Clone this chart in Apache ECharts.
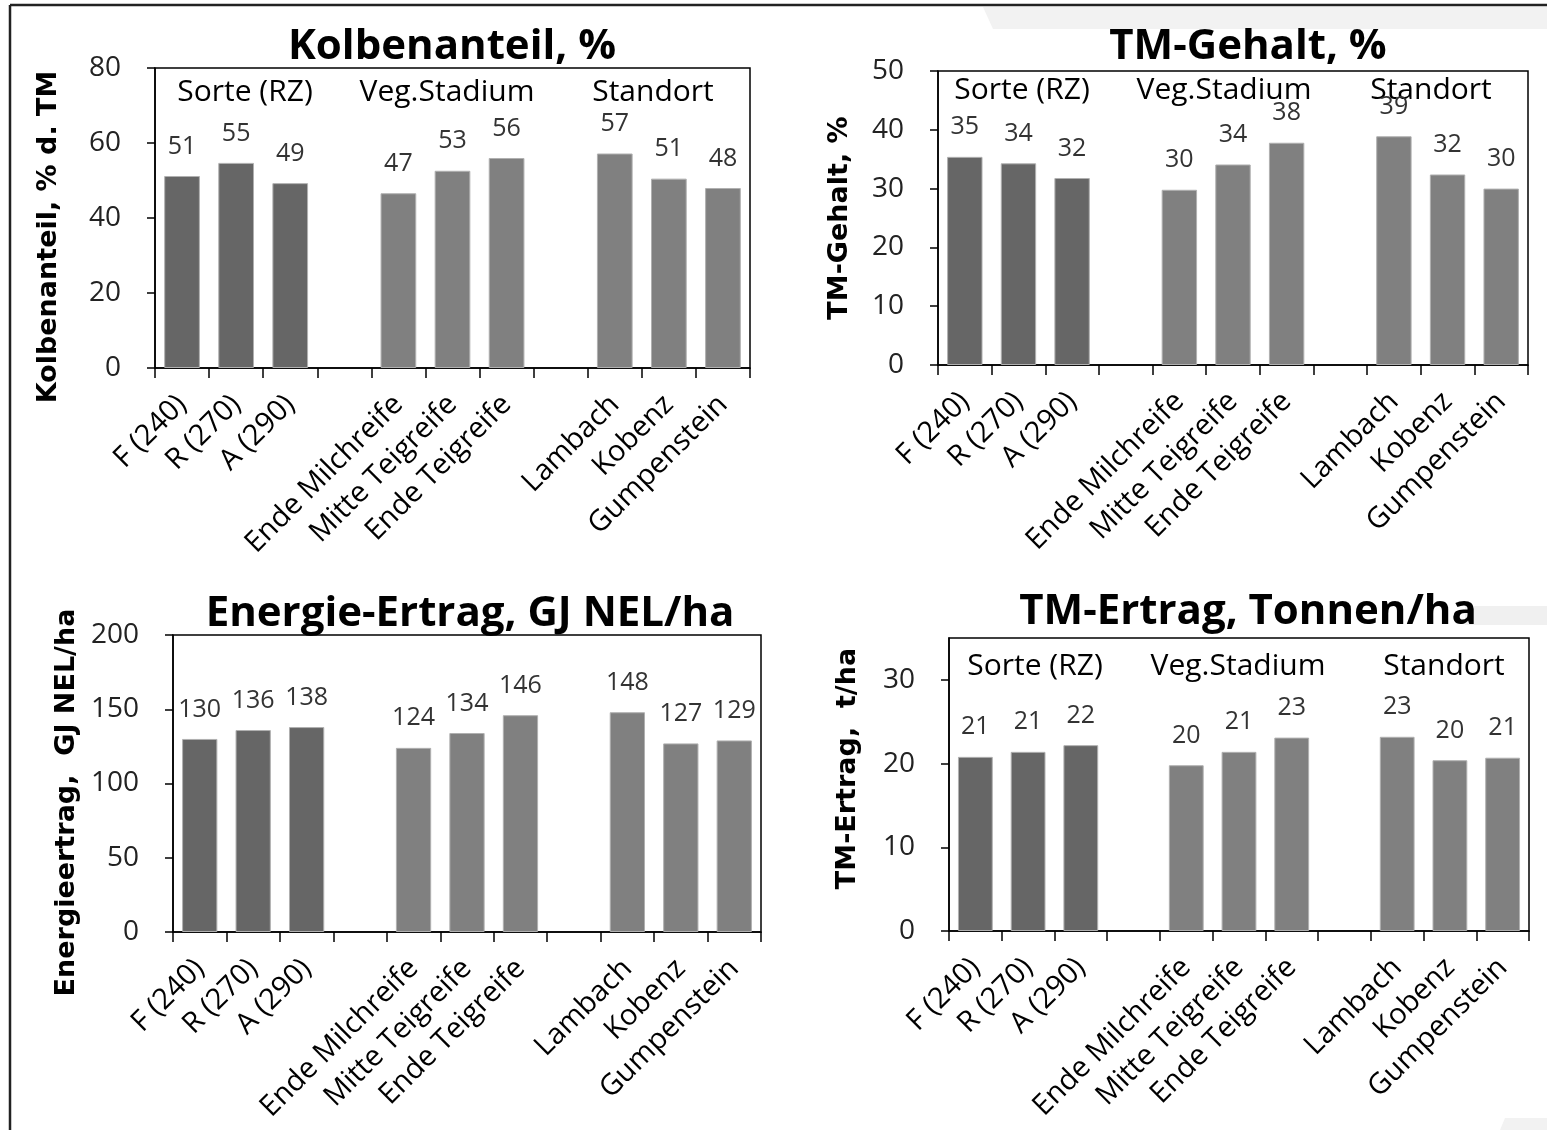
<!DOCTYPE html>
<html>
<head>
<meta charset="utf-8">
<title>Silomais Kennzahlen</title>
<script src="https://cdn.jsdelivr.net/npm/echarts@6/dist/echarts.min.js"></script>
<style>
    html, body { margin: 0; padding: 0; background: #fff; }
    #main { width: 1547px; height: 1130px; }
</style>
</head>
<body>
<div id="main"></div>
<script>
    // Kategorien, drei Gruppen
    var sorte = ['F (240)', 'R (270)', 'A (290)'];
    var stadium = ['Ende Milchreife', 'Mitte Teigreife', 'Ende Teigreife'];
    var standort = ['Lambach', 'Kobenz', 'Gumpenstein'];
    var gruppen = ['Sorte (RZ)', 'Veg.Stadium', 'Standort'];

    // Werte je Diagramm (Sorte x3, Stadium x3, Standort x3)
    var kolbenanteil = [51.2, 54.7, 49.3, 46.6, 52.6, 56.0, 57.2, 50.5, 48.0];
    var tmGehalt = [35.4, 34.3, 31.8, 29.8, 34.1, 37.8, 38.9, 32.4, 30.0];
    var energieErtrag = [130, 136, 138, 124, 134, 146, 148, 127, 129];
    var tmErtrag = [20.8, 21.4, 22.2, 19.8, 21.4, 23.1, 23.2, 20.4, 20.7];

    var FONT = '"Open Sans", sans-serif';
    var dunkel = '#666666';
    var hell = '#808080';

    // Kategorien mit Lücke zwischen den Gruppen
    var kategorien = sorte.concat([' '], stadium, ['  '], standort);
    function mitLuecken(v) {
        return v.slice(0, 3).concat(['-'], v.slice(3, 6), ['-'], v.slice(6, 9));
    }

    // Layout der vier Diagramme
    var panels = [
        {title: 'Kolbenanteil, %', tx: 447, ty: 21, name: 'Kolbenanteil, % d. TM', nameGap: 93, namePad: [0, 38, 0, 0],
            grid: {left: 155, top: 68, width: 595, height: 300}, max: 80, interval: 20, data: kolbenanteil,
            gruppenPos: [[245, 92], [447, 92], [653, 92]]},
        {title: 'TM-Gehalt, %', tx: 1243, ty: 21, name: 'TM-Gehalt, %', nameGap: 85, namePad: [0, 0, 0, 0],
            grid: {left: 938, top: 71, width: 590, height: 294}, max: 50, interval: 10, data: tmGehalt,
            gruppenPos: [[1022, 90], [1224, 90], [1431, 90]]},
        {title: 'Energie-Ertrag, GJ NEL/ha', tx: 465, ty: 588, name: 'Energieertrag,  GJ NEL/ha', nameGap: 93, namePad: [0, 38, 0, 0],
            grid: {left: 173, top: 635, width: 588, height: 297}, max: 200, interval: 50, data: energieErtrag,
            gruppenPos: []},
        {title: 'TM-Ertrag, Tonnen/ha', tx: 1243, ty: 586, name: 'TM-Ertrag,  t/ha', nameGap: 88, namePad: [0, 0, 0, 32],
            grid: {left: 949, top: 638, width: 580, height: 293}, max: 35, interval: 10, data: tmErtrag,
            gruppenPos: [[1035, 666], [1238, 666], [1444, 666]],
            ticks: [0, 10, 20, 30]}
    ];

    var option = {
        animation: false,
        backgroundColor: '#fff',
        title: [],
        grid: [],
        xAxis: [],
        yAxis: [],
        series: [],
        graphic: [
            // heller Streifen oben rechts
            {type: 'polygon', z: -10, shape: {points: [[983, 7], [1547, 7], [1547, 29], [993, 29]]},
                style: {fill: '#f2f2f2'}},
            {type: 'rect', z: -10, shape: {x: 1465, y: 606, width: 82, height: 19}, style: {fill: '#f0f0f0'}},
            {type: 'polygon', z: -10, shape: {points: [[1505, 1118], [1547, 1118], [1547, 1130], [1500, 1130]]},
                style: {fill: '#f2f2f2'}},
            // Rahmen
            {type: 'line', shape: {x1: 10, y1: 5, x2: 1547, y2: 5}, style: {stroke: '#222', lineWidth: 2.5}},
            {type: 'line', shape: {x1: 10, y1: 5, x2: 10, y2: 1130}, style: {stroke: '#222', lineWidth: 2.5}}
        ]
    };

    panels.forEach(function (p, i) {
        option.title.push({
            text: p.title, left: p.tx, top: p.ty, textAlign: 'center',
            textStyle: {fontFamily: FONT, fontSize: 42, fontWeight: 'bold', color: '#000'}
        });
        option.grid.push(Object.assign({show: true, borderColor: '#000', borderWidth: 1.5,
            backgroundColor: 'transparent', containLabel: false}, p.grid));
        option.xAxis.push({
            type: 'category', gridIndex: i, data: kategorien,
            axisLine: {lineStyle: {color: '#000', width: 1.5}},
            axisTick: {show: true, interval: 0, length: 10, lineStyle: {color: '#000', width: 1.5}},
            axisLabel: {interval: 0, rotate: 45, margin: 32, fontFamily: FONT, fontSize: 29, color: '#000'}
        });
        var yAxis = {
            type: 'value', gridIndex: i, min: 0, max: p.max, interval: p.interval,
            name: p.name, nameLocation: 'middle', nameGap: p.nameGap, nameRotate: 90,
            nameTextStyle: {fontFamily: '"DejaVu Sans", sans-serif', fontSize: 27, fontWeight: 'bold',
                color: '#000', padding: p.namePad},
            axisLine: {show: true, lineStyle: {color: '#000', width: 1.5}},
            axisTick: {show: true, length: 8, lineStyle: {color: '#000', width: 1.5}},
            axisLabel: {margin: 34, fontFamily: FONT, fontSize: 28, color: '#222'},
            splitLine: {show: false}
        };
        if (p.ticks) {
            yAxis.axisTick.customValues = p.ticks;
            yAxis.axisLabel.customValues = p.ticks;
        }
        option.yAxis.push(yAxis);
        option.series.push({
            type: 'bar', xAxisIndex: i, yAxisIndex: i,
            data: mitLuecken(p.data),
            barWidth: '66%',
            itemStyle: {
                color: function (params) { return params.dataIndex < 3 ? dunkel : hell; },
                borderColor: '#b0b0b0', borderWidth: 1
            },
            label: {
                show: true, position: 'top', distance: 17,
                fontFamily: FONT, fontSize: 25, color: '#333',
                formatter: function (params) { return Math.round(params.value); }
            }
        });
        p.gruppenPos.forEach(function (pos, k) {
            option.graphic.push({
                type: 'text', x: pos[0], y: pos[1],
                style: {text: gruppen[k], fontFamily: FONT, fontSize: 30, fill: '#000',
                    align: 'center', verticalAlign: 'middle'}
            });
        });
    });

    var myChart = echarts.init(document.getElementById('main'));
    myChart.setOption(option);
</script>
</body>
</html>
